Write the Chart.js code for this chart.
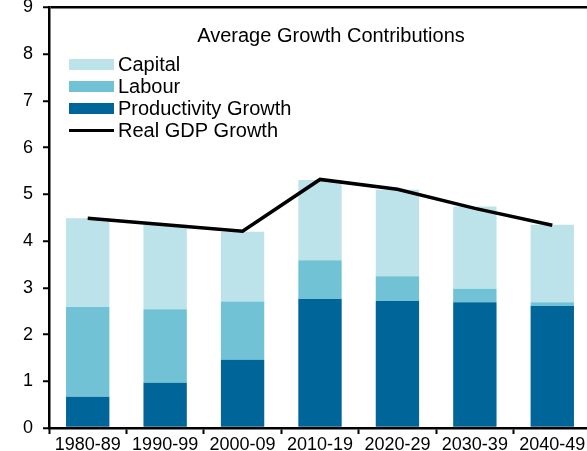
<!DOCTYPE html>
<html>
<head>
<meta charset="utf-8">
<script src="https://cdn.jsdelivr.net/npm/chart.js@4.4.1/dist/chart.umd.min.js"></script>
<style>
  html, body { margin: 0; padding: 0; background: #fff; overflow: hidden; }
  #wrap { width: 587px; height: 451px; position: relative; overflow: hidden; }
  #c { display: block; }
</style>
</head>
<body>
<div id="wrap"><canvas id="c" width="591" height="451"></canvas></div>
<script>
// Decades on the category axis
const decades = ['1980-89', '1990-99', '2000-09', '2010-19', '2020-29', '2030-39', '2040-49'];

// Average annual growth contributions, percentage points
const productivity = [0.67, 0.97, 1.46, 2.76, 2.72, 2.69, 2.61];
const labour       = [1.92, 1.57, 1.25, 0.83, 0.53, 0.29, 0.08];
const capital      = [1.90, 1.81, 1.49, 1.72, 1.85, 1.76, 1.66];

// Average real GDP growth, per cent
const realGdp = [4.49, 4.35, 4.21, 5.32, 5.11, 4.70, 4.34];

// Value axis ticks
const yTicks = [0, 1, 2, 3, 4, 5, 6, 7, 8, 9];

const FONT = "'Liberation Sans', Arial, Helvetica, sans-serif";
const COL_CAPITAL = '#bde3ea';
const COL_LABOUR = '#72c2d6';
const COL_PROD = '#006699';

// Legend block in the upper part of the plot: heading plus four entries
const legendBlock = {
  id: 'legendBlock',
  afterDraw(chart) {
    const ctx = chart.ctx;
    ctx.save();
    ctx.fillStyle = '#000';
    ctx.font = '20px ' + FONT;
    ctx.textBaseline = 'middle';
    ctx.textAlign = 'center';
    ctx.fillText('Average Growth Contributions', 331, 36);

    // entries listed top-down: Capital, Labour, Productivity, Real GDP
    const entries = [2, 1, 0, 3].map(i => chart.data.datasets[i]);
    ctx.textAlign = 'left';
    entries.forEach((ds, k) => {
      const cy = 64.5 + k * 22;
      if (ds.type === 'line') {
        ctx.strokeStyle = ds.borderColor;
        ctx.lineWidth = 3;
        ctx.beginPath();
        ctx.moveTo(69, cy);
        ctx.lineTo(114, cy);
        ctx.stroke();
      } else {
        ctx.fillStyle = ds.backgroundColor;
        ctx.fillRect(69, cy - 5.5, 45, 11);
      }
      ctx.fillStyle = '#000';
      ctx.fillText(ds.label, 118, cy + 0.5);
    });
    ctx.restore();
  }
};

new Chart(document.getElementById('c'), {
  type: 'bar',
  data: {
    labels: decades,
    datasets: [
      { label: 'Productivity Growth', data: productivity, backgroundColor: COL_PROD, stack: 'contrib', order: 1,
        categoryPercentage: 1, barPercentage: 0.56 },
      { label: 'Labour', data: labour, backgroundColor: COL_LABOUR, stack: 'contrib', order: 1,
        categoryPercentage: 1, barPercentage: 0.56 },
      { label: 'Capital', data: capital, backgroundColor: COL_CAPITAL, stack: 'contrib', order: 1,
        categoryPercentage: 1, barPercentage: 0.56 },
      { type: 'line', label: 'Real GDP Growth', data: realGdp, borderColor: '#000', backgroundColor: '#000',
        borderWidth: 3.5, pointRadius: 0, tension: 0, stack: 'gdp', order: 0, fill: false }
    ]
  },
  options: {
    responsive: false,
    animation: false,
    devicePixelRatio: 1,
    layout: { padding: 0 },
    plugins: {
      legend: { display: false },
      tooltip: { enabled: false },
      title: { display: false }
    },
    scales: {
      x: {
        stacked: true,
        offset: true,
        grid: {
          offset: true,
          drawOnChartArea: false,
          drawTicks: true,
          tickLength: 6,
          tickColor: '#000',
          tickWidth: 2
        },
        border: { color: '#000', width: 2.5 },
        ticks: { color: '#000', font: { family: FONT, size: 18, lineHeight: 1 }, padding: 2, maxRotation: 0, autoSkip: false },
        afterFit(scale) { scale.height = 23; scale.paddingLeft = 0; scale.paddingRight = 0; }
      },
      y: {
        stacked: true,
        min: yTicks[0],
        max: yTicks[yTicks.length - 1],
        afterBuildTicks(scale) { scale.ticks = yTicks.map(v => ({ value: v })); },
        grid: {
          drawOnChartArea: true,
          drawTicks: true,
          tickLength: 6,
          tickColor: '#000',
          tickWidth: 2,
          color: c => (c.tick && c.tick.value === 9 ? '#000' : 'rgba(0,0,0,0)'),
          lineWidth: 2.5
        },
        border: { color: '#000', width: 2.5 },
        ticks: { color: '#000', font: { family: FONT, size: 18 }, padding: 10 },
        afterFit(scale) { scale.width = 49; scale.paddingTop = 7.5; scale.paddingBottom = 0; }
      }
    }
  },
  plugins: [legendBlock]
});
</script>
</body>
</html>
